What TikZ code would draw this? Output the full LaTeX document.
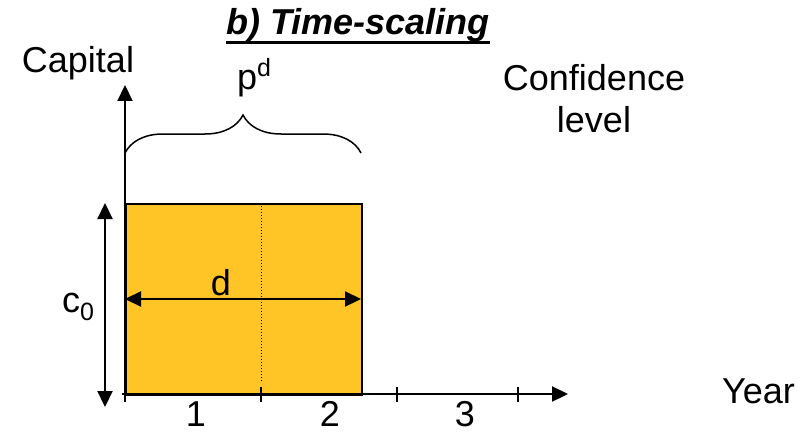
\documentclass[tikz,border=0pt]{standalone}
\usepackage{fontspec}
\setmainfont{Liberation Sans}
\usetikzlibrary{arrows.meta,decorations.pathreplacing}
\definecolor{gold}{HTML}{FFC526}
\newcommand{\mysub}[1]{\raisebox{-8pt}{\fontsize{25}{25}\selectfont #1}}
\newcommand{\mysup}[1]{\raisebox{13pt}{\fontsize{25}{25}\selectfont #1}}
\begin{document}
\begin{tikzpicture}[x=1pt,y=-1pt,
  lbl/.style={inner sep=0pt,font=\fontsize{36}{42}\selectfont},
  axis/.style={line width=2.2pt,-{Triangle[length=16pt,width=15pt]}},
  dbl/.style={line width=2.2pt,{Triangle[length=16pt,width=15pt]}-{Triangle[length=16pt,width=15pt]}},
  tick/.style={line width=1.5pt}]
\useasboundingbox (0,0) rectangle (805,433);
% rectangle
\node[draw=black,line width=1.5pt,fill=gold,inner sep=0pt,minimum width=236pt,minimum height=191pt,anchor=north west] (box) at (125,203) {};
\draw[dotted,line width=1pt] ([xshift=136pt]box.north west) -- ([xshift=136pt,yshift=14pt]box.south west);
% axes
\coordinate (o) at (122,394);
\coordinate (ytip) at (125,85);
\coordinate (xtip) at (568,394);
\draw[axis] (125,400) -- (ytip);
\draw[axis] (o) -- (xtip);
\foreach \x in {125,261,397,518} \draw[tick] (\x,387) -- (\x,402);
% d arrow
\coordinate (dl) at (125,299);
\coordinate (dr) at (361,299);
\draw[dbl] (dl) -- (dr);
\node[lbl,anchor=base] (d) at (221,295) {d};
% c0 arrow
\coordinate (ct) at (105,203);
\coordinate (cb) at (105,407);
\draw[dbl] (cb) -- (ct);
\node[lbl,anchor=base west] (c0) at (62,312) {c\mysub{0}};
% brace
\coordinate (bl) at (125,153);
\coordinate (br) at (361,153);
\draw[line width=1.5pt,decorate,decoration={brace,amplitude=38pt,aspect=0.5}] (bl) -- (br);
\node[lbl,anchor=base west] (pd) at (237,90) {p\mysup{d}};
% labels
\node[lbl,anchor=base] (cap) at (78,73) {Capital};
\node[lbl,anchor=north,align=center] (conf) at (594,64) {Confidence\\level};
\node[lbl,anchor=base west] (year) at (722,403) {Year};
\node[lbl,anchor=base] (l1) at (196,426) {1};
\node[lbl,anchor=base] (l2) at (330,426) {2};
\node[lbl,anchor=base] (l3) at (465,426) {3};
% title
\node[lbl,anchor=base,font=\fontsize{36}{42}\selectfont\bfseries\itshape] (title) at (358,35) {b) Time-scaling};
\draw[line width=3pt] ([yshift=-8pt]title.base west) -- ([yshift=-8pt]title.base east);
\end{tikzpicture}
\end{document}
